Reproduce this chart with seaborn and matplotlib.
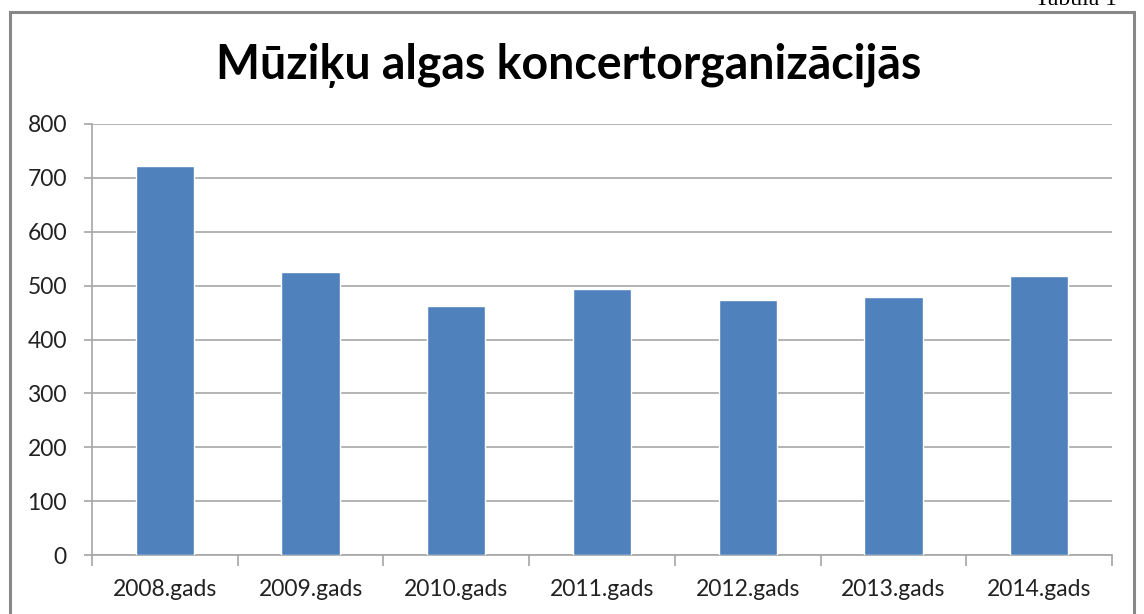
import matplotlib
matplotlib.use("Agg")
import matplotlib.pyplot as plt
import seaborn as sns
import pandas as pd
from matplotlib.patches import Rectangle

years = ["2008.gads", "2009.gads", "2010.gads", "2011.gads", "2012.gads", "2013.gads", "2014.gads"]
salaries = [722, 525, 463, 494, 473, 479, 518]
y_ticks = [0, 100, 200, 300, 400, 500, 600, 700, 800]
title = "Mūziķu algas koncertorganizācijās"
caption = "Tabula 1"

sns.set_theme(style="white")
plt.rcParams['font.family'] = ['Lato', 'DejaVu Sans']

df = pd.DataFrame({"year": years, "salary": salaries})

fig = plt.figure(figsize=(11.44, 6.14), dpi=100)
ax = fig.add_axes([92/1144, 1-555/614, (1112-92)/1144, (555-124)/614])

sns.barplot(data=df, x="year", y="salary", order=years, color="#4F81BD",
            width=0.4, saturation=1, ax=ax, zorder=3)

ax.set_ylim(0, 800)
ax.set_xlim(-0.5, len(years) - 0.5)
ax.set_yticks(y_ticks)
ax.set_xlabel("")
ax.set_ylabel("")
ax.yaxis.grid(True, color="#b3b3b3", linewidth=1.4, zorder=0)
ax.set_axisbelow(True)

for s in ["top", "right"]:
    ax.spines[s].set_visible(False)
for s in ["left", "bottom"]:
    ax.spines[s].set_color("#a6a6a6")
    ax.spines[s].set_linewidth(1.2)

ax.tick_params(axis="y", which="major", length=6, width=1.2, color="#a6a6a6",
               labelsize=16.5, labelcolor="#222222", pad=12, left=True)
ax.tick_params(axis="x", which="major", length=0, labelsize=16.5, labelcolor="#222222", pad=17)
ax.set_xticks([i - 0.5 for i in range(len(years) + 1)], minor=True)
ax.tick_params(axis="x", which="minor", length=8, width=1.2, color="#a6a6a6", bottom=True)

fig.text(569/1144, 1-66/614, title, ha="center", va="center",
         fontsize=33.5, fontweight="bold", color="#000000")

fig.text(1035/1144, 1 - 5/614, caption, ha="left", va="baseline",
         fontsize=17, family=["Liberation Serif", "DejaVu Serif"], color="#000000")

frame = Rectangle((9.5/1144, -0.1), (1133.5-9.5)/1144, 1.1 - 12/614,
                  transform=fig.transFigure, fill=False, edgecolor="#888888",
                  linewidth=2.2, zorder=10)
fig.patches.append(frame)

fig.savefig("out.png", dpi=100)
